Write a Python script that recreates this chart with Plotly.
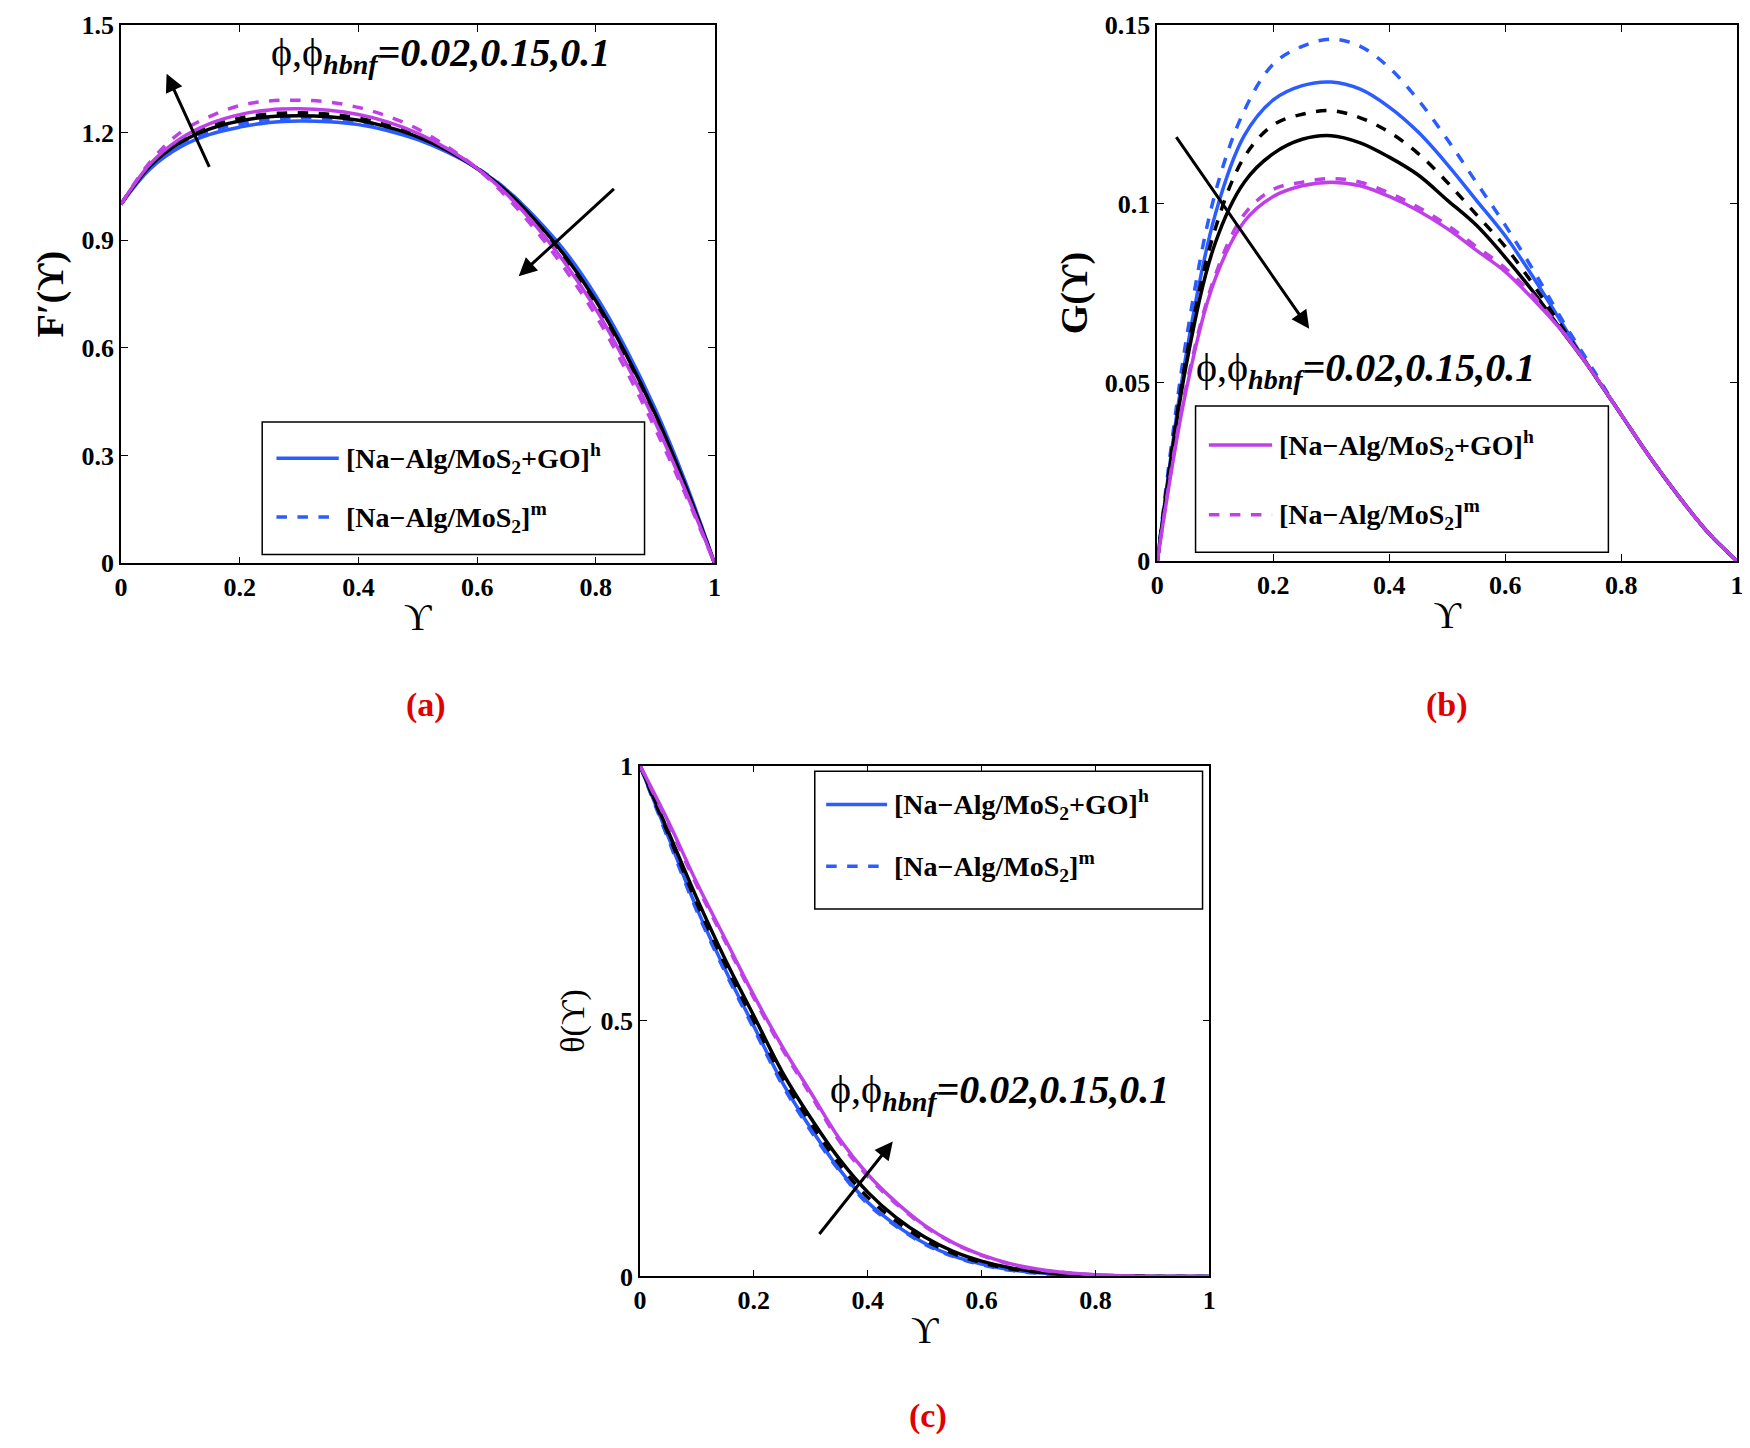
import plotly.graph_objects as go

x = [0, .05, .1, .15, .2, .25, .3, .35, .4, .45, .5, .55, .6, .65, .7, .75, .8, .85, .9, .95, 1]

# Panel (a): F'
a_bs = [1, 1.10, 1.16, 1.195, 1.215, 1.228, 1.232, 1.230, 1.222, 1.205, 1.180, 1.145, 1.100, 1.040, 0.960, 0.865, 0.745, 0.600, 0.430, 0.230, 0]
a_bd = [1, 1.105, 1.167, 1.203, 1.224, 1.237, 1.241, 1.239, 1.230, 1.212, 1.186, 1.150, 1.102, 1.040, 0.958, 0.860, 0.740, 0.594, 0.424, 0.226, 0]
a_ks = [1, 1.108, 1.172, 1.210, 1.232, 1.244, 1.247, 1.244, 1.234, 1.215, 1.188, 1.150, 1.100, 1.036, 0.952, 0.852, 0.731, 0.585, 0.416, 0.220, 0]
a_kd = [1, 1.110, 1.177, 1.217, 1.240, 1.252, 1.255, 1.251, 1.240, 1.220, 1.192, 1.152, 1.100, 1.033, 0.947, 0.845, 0.722, 0.576, 0.408, 0.215, 0]
a_ms = [1, 1.114, 1.183, 1.225, 1.250, 1.263, 1.266, 1.262, 1.250, 1.229, 1.198, 1.155, 1.100, 1.028, 0.938, 0.832, 0.708, 0.560, 0.393, 0.205, 0]
a_md = [1, 1.12, 1.200, 1.245, 1.275, 1.288, 1.290, 1.285, 1.270, 1.245, 1.210, 1.160, 1.100, 1.020, 0.925, 0.815, 0.690, 0.540, 0.375, 0.195, 0]

# Panel (b): G
b_bs = [0, .058, .097, .119, .129, .133, .134, .132, .127, .120, .111, .101, .091, .079, .066, .053, .041, .029, .018, .008, 0]
b_bd = [0, .062, .103, .126, .139, .144, .146, .144, .138, .129, .118, .106, .094, .081, .067, .054, .041, .029, .018, .008, 0]
b_ks = [0, .055, .089, .106, .114, .118, .119, .117, .113, .108, .101, .094, .085, .075, .064, .053, .041, .029, .018, .008, 0]
b_kd = [0, .057, .093, .113, .122, .125, .126, .124, .120, .114, .106, .097, .088, .077, .065, .053, .041, .029, .018, .008, 0]
b_ms = [0, .048, .079, .095, .102, .105, .106, .105, .102, .098, .093, .087, .081, .073, .064, .053, .041, .029, .018, .008, 0]
b_md = [0, .049, .080, .097, .104, .106, .107, .106, .103, .099, .094, .088, .082, .074, .064, .053, .041, .029, .018, .008, 0]

# Panel (c): theta
c_bs = [1, .86, .72, .60, .49, .38, .29, .21, .145, .100, .065, .040, .024, .013, .007, .003, .001, 0, 0, 0, 0]
c_bd = [1, .855, .715, .595, .485, .375, .285, .207, .142, .098, .063, .039, .023, .012, .006, .003, .001, 0, 0, 0, 0]
c_ks = [1, .87, .74, .62, .51, .40, .31, .23, .165, .115, .077, .049, .030, .017, .009, .004, .002, .001, 0, 0, 0]
c_kd = [1, .865, .73, .61, .50, .39, .30, .22, .155, .108, .071, .045, .027, .015, .008, .004, .002, .001, 0, 0, 0]
c_ms = [1, .89, .77, .66, .55, .45, .36, .27, .20, .145, .100, .066, .042, .025, .014, .007, .003, .001, 0, 0, 0]
c_md = [1, .885, .765, .655, .545, .445, .355, .265, .196, .142, .098, .065, .041, .024, .013, .007, .003, .001, 0, 0, 0]

BLUE = "#2b5cff"
MAG = "#c040e8"
BLK = "black"

fig = go.Figure()

def add(xa, ya, ys):
    styles = [(BLUE, "solid"), (BLUE, "dash"), (BLK, "solid"), (BLK, "dash"), (MAG, "solid"), (MAG, "dash")]
    for y, (c, d) in zip(ys, styles):
        fig.add_trace(go.Scatter(x=x, y=y, mode="lines", line=dict(color=c, dash=d, width=3.5, shape="spline"),
                                 xaxis=xa, yaxis=ya, showlegend=False))

add("x", "y", [a_bs, a_bd, a_ks, a_kd, a_ms, a_md])
add("x2", "y2", [b_bs, b_bd, b_ks, b_kd, b_ms, b_md])
add("x3", "y3", [c_bs, c_bd, c_ks, c_kd, c_ms, c_md])

FONT = "Liberation Serif"
tickf = dict(family=FONT, size=26, color="black", weight="bold")
ax = dict(showgrid=False, zeroline=False, showline=True, linecolor="black", linewidth=1.5, mirror="ticks",
          ticks="inside", ticklen=7, tickcolor="black", tickfont=tickf)

ticks01 = [0, 0.2, 0.4, 0.6, 0.8, 1]
ticktext01 = ["0", "0.2", "0.4", "0.6", "0.8", "1"]
xt = dict(text="ϒ", font=dict(family=FONT, size=38, color="black"), standoff=2)

fig.update_layout(
    width=1750, height=1448, paper_bgcolor="white", plot_bgcolor="white", margin=dict(l=0, r=0, t=0, b=0),
    xaxis=dict(ax, domain=[0.061, 0.403], range=[0, 1], tickvals=ticks01, ticktext=ticktext01, title=xt),
    yaxis=dict(ax, domain=[0.6185, 0.998], range=[0, 1.5], tickvals=[0, .3, .6, .9, 1.2, 1.5],
               ticktext=["0", "0.3", "0.6", "0.9", "1.2", "1.5"],
               title=dict(text="<b>F′(ϒ)</b>", font=dict(family=FONT, size=38, color="black"), standoff=6)),
    xaxis2=dict(ax, domain=[0.658, 0.992], range=[0, 1], tickvals=ticks01, ticktext=ticktext01, title=xt, anchor="y2"),
    yaxis2=dict(ax, domain=[0.620, 0.998], range=[0, 0.15], tickvals=[0, .05, .1, .15],
                ticktext=["0", "0.05", "0.1", "0.15"], anchor="x2",
                title=dict(text="<b>G(ϒ)</b>", font=dict(family=FONT, size=38, color="black"), standoff=6)),
    xaxis3=dict(ax, domain=[0.360, 0.688], range=[0, 1], tickvals=ticks01, ticktext=ticktext01, title=xt, anchor="y3"),
    yaxis3=dict(ax, domain=[0.116, 0.476], range=[0, 1], tickvals=[0, .5, 1], ticktext=["0", "0.5", "1"], anchor="x3",
                title=dict(text="θ(ϒ)", font=dict(family=FONT, size=34, color="black"), standoff=6)),
)

ann_txt = "ϕ,ϕ<sub><b><i>hbnf</i></b></sub><b><i>=0.02,0.15,0.1</i></b>"
leg1 = "[Na−Alg/MoS<sub>2</sub>+GO]<sup>h</sup>"
leg2 = "[Na−Alg/MoS<sub>2</sub>]<sup>m</sup>"
tfont = dict(family=FONT, size=40, color="black")
lfont = dict(family=FONT, size=28, color="black", weight="bold")

def legend(xr, yr, box, l1y, l2y, sx, tx, color):
    fig.add_shape(type="rect", xref=xr, yref=yr, x0=box[0], x1=box[1], y0=box[2], y1=box[3],
                  line=dict(color="black", width=1.5), fillcolor="white", layer="above")
    fig.add_shape(type="line", xref=xr, yref=yr, x0=sx[0], x1=sx[1], y0=l1y, y1=l1y, line=dict(color=color, width=3.5))
    fig.add_shape(type="line", xref=xr, yref=yr, x0=sx[0], x1=sx[1], y0=l2y, y1=l2y, line=dict(color=color, width=3.5, dash="dash"))
    fig.add_annotation(xref=xr, yref=yr, x=tx, y=l1y, text=leg1, showarrow=False, xanchor="left", font=lfont)
    fig.add_annotation(xref=xr, yref=yr, x=tx, y=l2y, text=leg2, showarrow=False, xanchor="left", font=lfont)

legend("x", "y", [0.238, 0.882, 0.025, 0.394], 0.293, 0.129, [0.262, 0.367], 0.375, BLUE)
legend("x2", "y2", [0.066, 0.778, 0.0025, 0.0434], 0.0325, 0.013, [0.089, 0.198], 0.207, MAG)
legend("x3", "y3", [0.307, 0.988, 0.719, 0.989], 0.924, 0.803, [0.327, 0.434], 0.443, BLUE)

fig.add_annotation(xref="x", yref="y", x=0.249, y=1.417, text=ann_txt, showarrow=False, xanchor="left", font=tfont)
fig.add_annotation(xref="x2", yref="y2", x=0.064, y=0.0535, text=ann_txt, showarrow=False, xanchor="left", font=tfont)
fig.add_annotation(xref="x3", yref="y3", x=0.331, y=0.361, text=ann_txt, showarrow=False, xanchor="left", font=tfont)

def arrow(xr, yr, x0, y0, x1, y1):
    fig.add_annotation(xref=xr, yref=yr, axref=xr, ayref=yr, ax=x0, ay=y0, x=x1, y=y1, text="",
                       showarrow=True, arrowhead=2, arrowsize=1.2, arrowwidth=3, arrowcolor="black")

arrow("x", "y", 0.15, 1.10, 0.077, 1.364)
arrow("x", "y", 0.833, 1.047, 0.670, 0.80)
arrow("x2", "y2", 0.031, 0.119, 0.262, 0.065)
arrow("x3", "y3", 0.313, 0.080, 0.444, 0.264)

red = dict(family=FONT, size=34, color="#e00000", weight="bold")
fig.add_annotation(xref="paper", yref="paper", x=0.224, y=0.519, text="(a)", showarrow=False, font=red)
fig.add_annotation(xref="paper", yref="paper", x=0.838, y=0.519, text="(b)", showarrow=False, font=red)
fig.add_annotation(xref="paper", yref="paper", x=0.526, y=0.003, text="(c)", showarrow=False, font=red)

fig.write_html("out.html")
